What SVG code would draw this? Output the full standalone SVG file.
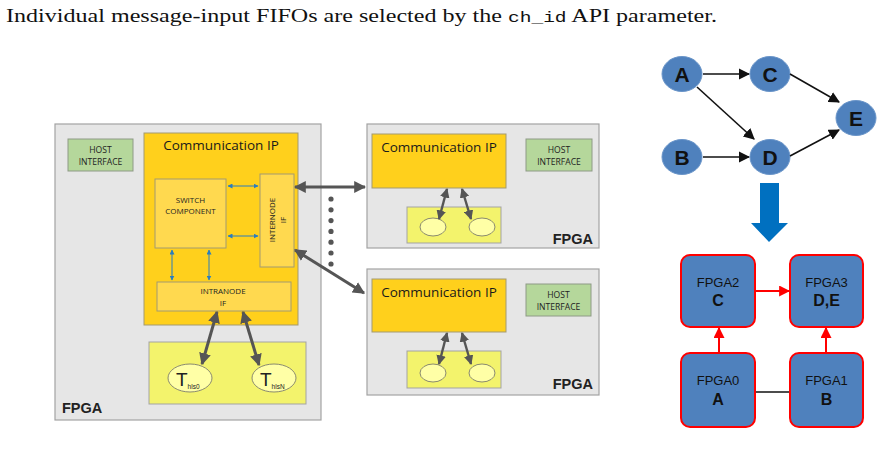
<svg xmlns="http://www.w3.org/2000/svg" width="883" height="457" viewBox="0 0 883 457">
<style>
.panel{fill:#e6e6e6;stroke:#a3a3a3;stroke-width:1.2}
.host{fill:#b5d79b;stroke:#8e9a86;stroke-width:1}
.comm{fill:#ffd01c;stroke:#a39a70;stroke-width:1}
.inner{fill:#ffd94f;stroke:#a39a70;stroke-width:1}
.low{fill:#f3f36c;stroke:#a3a3a3;stroke-width:1}
.ell{fill:#ffffa6;stroke:#8a8a70;stroke-width:1}
.t8{font-family:"Open Sans","Liberation Sans",sans-serif;font-size:8.6px;fill:#222;text-anchor:middle}
.t7{font-family:"Open Sans","Liberation Sans",sans-serif;font-size:8px;fill:#222;text-anchor:middle}
.title{font-family:"Open Sans","Liberation Sans",sans-serif;font-size:13.5px;fill:#1a1a1a;text-anchor:middle}
.fpga{font-family:"Liberation Sans",Arial,sans-serif;font-size:14.5px;font-weight:bold;fill:#222}
.dark{stroke:#555;stroke-width:3;fill:none}
.blue{stroke:#2a7dbf;stroke-width:1;fill:none}
.dag{fill:#4f81bd;stroke:#6a95c9;stroke-width:1}
.dagt{font-family:"Liberation Sans",Arial,sans-serif;font-size:21px;font-weight:bold;fill:#111;text-anchor:middle}
.blk{stroke:#111;stroke-width:1.6;fill:none}
.fb{fill:#4f81bd;stroke:#ff0000;stroke-width:2}
.fn{font-family:"Liberation Sans",Arial,sans-serif;font-size:13px;fill:#111;text-anchor:middle}
.fl{font-family:"Liberation Sans",Arial,sans-serif;font-size:16px;font-weight:bold;fill:#111;text-anchor:middle}
.red{stroke:#ff0000;stroke-width:2;fill:none}
</style>
<defs>
<marker id="ad" viewBox="0 0 10 10" refX="9" refY="5" markerWidth="4" markerHeight="4" orient="auto-start-reverse" markerUnits="strokeWidth"><path d="M0,0 L10,5 L0,10 Z" fill="#555"/></marker>
<marker id="ab" viewBox="0 0 10 10" refX="9" refY="5" markerWidth="5" markerHeight="5" orient="auto-start-reverse" markerUnits="strokeWidth"><path d="M0,0 L10,5 L0,10 Z" fill="#2a7dbf"/></marker>
<marker id="ak" viewBox="0 0 10 10" refX="9" refY="5" markerWidth="7" markerHeight="7" orient="auto" markerUnits="strokeWidth"><path d="M0,0 L10,5 L0,10 Z" fill="#111"/></marker>
<marker id="ar" viewBox="0 0 10 10" refX="9" refY="5" markerWidth="5.5" markerHeight="5.5" orient="auto" markerUnits="strokeWidth"><path d="M0,0 L10,5 L0,10 Z" fill="#ff0000"/></marker>
</defs>
<rect width="883" height="457" fill="#ffffff"/>

<text x="6" y="22" font-family="'Liberation Serif','Times New Roman',serif" font-size="18.5" fill="#111" textLength="711" lengthAdjust="spacingAndGlyphs">Individual message-input FIFOs are selected by the <tspan font-family="'Liberation Mono','Courier New',monospace" font-size="15">ch_id</tspan> API parameter.</text>

<!-- Left FPGA -->
<g id="fpga-left">
<rect class="panel" x="55" y="124" width="266" height="296"/>
<text class="fpga" x="62" y="413">FPGA</text>
</g>
<g id="host-left">
<rect class="host" x="68" y="139" width="65" height="32"/>
<text class="t8" x="100.5" y="153">HOST</text>
<text class="t8" x="100.5" y="165">INTERFACE</text>
</g>
<g id="comm-left">
<rect class="comm" x="144" y="133" width="154" height="192"/>
<text class="title" x="221" y="150">Communication IP</text>
</g>
<g id="switch">
<rect class="inner" x="155" y="179" width="71" height="69"/>
<text class="t7" x="190.5" y="203">SWITCH</text>
<text class="t7" x="190.5" y="214">COMPONENT</text>
</g>
<g id="internode">
<rect class="inner" x="260" y="174" width="34" height="93"/>
<text class="t7" transform="translate(274.5,220) rotate(-90)" x="0" y="0">INTERNODE</text>
<text class="t7" transform="translate(285.5,220) rotate(-90)" x="0" y="0">IF</text>
</g>
<g id="intranode">
<rect class="inner" x="157" y="282" width="134" height="29"/>
<text class="t7" x="223" y="294">INTRANODE</text>
<text class="t7" x="223" y="306">IF</text>
</g>
<g id="hls-left">
<rect class="low" x="149" y="342" width="157" height="62"/>
</g>
<g id="thls0">
<ellipse class="ell" cx="190" cy="378" rx="22" ry="14"/>
<text x="176" y="386" font-family="'Liberation Sans',Arial,sans-serif" font-size="19" fill="#222">T<tspan font-size="6.5" dy="3">hls0</tspan></text>
</g>
<g id="thlsN">
<ellipse class="ell" cx="274" cy="378" rx="22" ry="14"/>
<text x="260" y="386" font-family="'Liberation Sans',Arial,sans-serif" font-size="19" fill="#222">T<tspan font-size="6.5" dy="3">hlsN</tspan></text>
</g>

<!-- Top right FPGA -->
<g id="fpga-tr">
<rect class="panel" x="367" y="124" width="232" height="124"/>
<text class="fpga" x="593" y="244" text-anchor="end">FPGA</text>
</g>
<g id="comm-tr">
<rect class="comm" x="372" y="134" width="134" height="54"/>
<text class="title" x="439" y="152">Communication IP</text>
</g>
<g id="host-tr">
<rect class="host" x="526" y="139" width="66" height="32"/>
<text class="t8" x="559" y="153">HOST</text>
<text class="t8" x="559" y="165">INTERFACE</text>
</g>
<g id="hls-tr">
<rect class="low" x="407" y="207" width="94" height="36"/>
<ellipse class="ell" cx="433" cy="227" rx="13" ry="9"/>
<ellipse class="ell" cx="482" cy="227" rx="13" ry="9"/>
</g>

<!-- Bottom right FPGA -->
<g id="fpga-br">
<rect class="panel" x="367" y="269" width="232" height="126"/>
<text class="fpga" x="593" y="389" text-anchor="end">FPGA</text>
</g>
<g id="comm-br">
<rect class="comm" x="372" y="279" width="134" height="53"/>
<text class="title" x="439" y="297">Communication IP</text>
</g>
<g id="host-br">
<rect class="host" x="526" y="284" width="65" height="32"/>
<text class="t8" x="558.5" y="298">HOST</text>
<text class="t8" x="558.5" y="310">INTERFACE</text>
</g>
<g id="hls-br">
<rect class="low" x="407" y="351" width="94" height="37"/>
<ellipse class="ell" cx="433" cy="373" rx="13" ry="9"/>
<ellipse class="ell" cx="482" cy="373" rx="13" ry="9"/>
</g>

<!-- DAG -->
<g id="A"><ellipse class="dag" cx="682" cy="74" rx="20" ry="17.5"/><text class="dagt" x="682" y="81.5">A</text></g>
<g id="C"><ellipse class="dag" cx="770" cy="74" rx="20" ry="17.5"/><text class="dagt" x="770" y="81.5">C</text></g>
<g id="E"><ellipse class="dag" cx="856" cy="118" rx="20" ry="17.5"/><text class="dagt" x="856" y="125.5">E</text></g>
<g id="B"><ellipse class="dag" cx="682" cy="157" rx="20" ry="17.5"/><text class="dagt" x="682" y="164.5">B</text></g>
<g id="D"><ellipse class="dag" cx="770" cy="157" rx="20" ry="17.5"/><text class="dagt" x="770" y="164.5">D</text></g>

<!-- FPGA mapping -->
<g id="fpga2"><rect class="fb" x="681" y="255" width="74" height="72" rx="9"/><text class="fn" x="718" y="287">FPGA2</text><text class="fl" x="718" y="306">C</text></g>
<g id="fpga3"><rect class="fb" x="790" y="255" width="73" height="72" rx="9"/><text class="fn" x="826.5" y="287">FPGA3</text><text class="fl" x="826.5" y="306">D,E</text></g>
<g id="fpga0"><rect class="fb" x="681" y="353" width="74" height="74" rx="9"/><text class="fn" x="718" y="385">FPGA0</text><text class="fl" x="718" y="405">A</text></g>
<g id="fpga1"><rect class="fb" x="790" y="353" width="73" height="74" rx="9"/><text class="fn" x="826.5" y="385">FPGA1</text><text class="fl" x="826.5" y="405">B</text></g>

<g id="connectors">
<line class="blue" x1="228" y1="186" x2="258" y2="186" marker-start="url(#ab)" marker-end="url(#ab)"/>
<line class="blue" x1="228" y1="236" x2="258" y2="236" marker-start="url(#ab)" marker-end="url(#ab)"/>
<line class="blue" x1="172" y1="250" x2="172" y2="280" marker-start="url(#ab)" marker-end="url(#ab)"/>
<line class="blue" x1="209" y1="250" x2="209" y2="280" marker-start="url(#ab)" marker-end="url(#ab)"/>
<line class="dark" x1="217" y1="312" x2="202" y2="364" marker-start="url(#ad)" marker-end="url(#ad)"/>
<line class="dark" x1="243" y1="312" x2="259" y2="365" marker-start="url(#ad)" marker-end="url(#ad)"/>
<line class="dark" style="stroke-width:2.4" x1="447" y1="189" x2="439" y2="219" marker-start="url(#ad)" marker-end="url(#ad)"/>
<line class="dark" style="stroke-width:2.4" x1="462" y1="189" x2="471" y2="219" marker-start="url(#ad)" marker-end="url(#ad)"/>
<line class="dark" style="stroke-width:2.4" x1="447" y1="333" x2="439" y2="364" marker-start="url(#ad)" marker-end="url(#ad)"/>
<line class="dark" style="stroke-width:2.4" x1="462" y1="333" x2="471" y2="364" marker-start="url(#ad)" marker-end="url(#ad)"/>
<line class="dark" x1="295" y1="187" x2="365" y2="187" marker-start="url(#ad)" marker-end="url(#ad)"/>
<line class="dark" x1="295" y1="250" x2="364" y2="293" marker-start="url(#ad)" marker-end="url(#ad)"/>
<g fill="#555">
<circle cx="331" cy="199" r="2.6"/><circle cx="331" cy="209.8" r="2.6"/><circle cx="331" cy="220.6" r="2.6"/><circle cx="331" cy="231.4" r="2.6"/><circle cx="331" cy="242.2" r="2.6"/><circle cx="331" cy="253" r="2.6"/><circle cx="331" cy="264" r="2.6"/>
</g>
<line class="blk" x1="703" y1="74" x2="749" y2="74" marker-end="url(#ak)"/>
<line class="blk" x1="697" y1="87" x2="754" y2="139" marker-end="url(#ak)"/>
<line class="blk" x1="703" y1="157" x2="749" y2="157" marker-end="url(#ak)"/>
<line class="blk" x1="790" y1="74" x2="839" y2="102" marker-end="url(#ak)"/>
<line class="blk" x1="790" y1="156" x2="839" y2="130" marker-end="url(#ak)"/>
<path d="M760,183 L779,183 L779,223 L788,223 L769,242 L751,223 L760,223 Z" fill="#0070c0"/>
<line class="red" x1="756" y1="291" x2="789" y2="291" marker-end="url(#ar)"/>
<line class="red" x1="719" y1="352" x2="719" y2="328" marker-end="url(#ar)"/>
<line class="red" x1="826" y1="352" x2="826" y2="328" marker-end="url(#ar)"/>
<line x1="756" y1="392" x2="789" y2="392" stroke="#111" stroke-width="1.6"/>
</g>
</svg>
